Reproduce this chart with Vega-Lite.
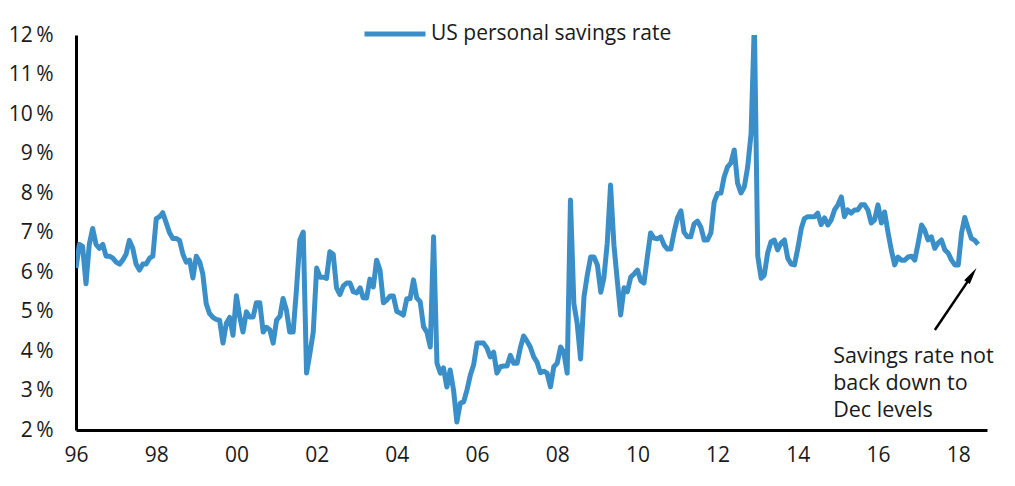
{
  "$schema": "https://vega.github.io/schema/vega-lite/v6.json",
  "width": 911,
  "height": 395,
  "autosize": {"type": "none"},
  "padding": {"left": 76, "top": 35, "right": 28, "bottom": 56},
  "background": "white",
  "config": {
    "view": {"stroke": null},
    "font": "Open Sans",
    "axis": {
      "domainColor": "#000000",
      "domainWidth": 3,
      "ticks": false,
      "tickSize": 0,
      "grid": false,
      "labelFont": "Open Sans",
      "labelFontSize": 21,
      "labelColor": "#1a1a1a",
      "title": null
    }
  },
  "encoding": {
    "x": {
      "field": "d",
      "type": "temporal",
      "scale": {"domain": [{"year": 1996, "month": 1, "date": 1}, {"year": 2018, "month": 9, "date": 20}], "nice": false},
      "axis": {
        "values": [{"year": 1996, "month": 1, "date": 1}, {"year": 1998, "month": 1, "date": 1}, {"year": 2000, "month": 1, "date": 1}, {"year": 2002, "month": 1, "date": 1}, {"year": 2004, "month": 1, "date": 1}, {"year": 2006, "month": 1, "date": 1}, {"year": 2008, "month": 1, "date": 1}, {"year": 2010, "month": 1, "date": 1}, {"year": 2012, "month": 1, "date": 1}, {"year": 2014, "month": 1, "date": 1}, {"year": 2016, "month": 1, "date": 1}, {"year": 2018, "month": 1, "date": 1}],
        "format": "%y",
        "labelFlush": false,
        "labelPadding": 14,
        "labelAlign": "center"
      }
    },
    "y": {
      "field": "v",
      "type": "quantitative",
      "scale": {"domain": [2, 12], "nice": false, "zero": false},
      "axis": {
        "values": [2, 3, 4, 5, 6, 7, 8, 9, 10, 11, 12],
        "labelExpr": "datum.value + '\u2009%'",
        "labelPadding": 23
      }
    }
  },
  "layer": [
    {
      "data": {"values": [
        {"d":"1996-01-01","v":6.1},{"d":"1996-02-01","v":6.7},{"d":"1996-03-01","v":6.65},{"d":"1996-04-01","v":5.7},{"d":"1996-05-01","v":6.7},{"d":"1996-06-01","v":7.1},{"d":"1996-07-01","v":6.7},{"d":"1996-08-01","v":6.6},{"d":"1996-09-01","v":6.7},{"d":"1996-10-01","v":6.4},{"d":"1996-11-01","v":6.4},{"d":"1996-12-01","v":6.35},
        {"d":"1997-01-01","v":6.25},{"d":"1997-02-01","v":6.2},{"d":"1997-03-01","v":6.3},{"d":"1997-04-01","v":6.45},{"d":"1997-05-01","v":6.8},{"d":"1997-06-01","v":6.6},{"d":"1997-07-01","v":6.2},{"d":"1997-08-01","v":6.05},{"d":"1997-09-01","v":6.2},{"d":"1997-10-01","v":6.2},{"d":"1997-11-01","v":6.35},{"d":"1997-12-01","v":6.4},
        {"d":"1998-01-01","v":7.35},{"d":"1998-02-01","v":7.4},{"d":"1998-03-01","v":7.5},{"d":"1998-04-01","v":7.25},{"d":"1998-05-01","v":7.0},{"d":"1998-06-01","v":6.85},{"d":"1998-07-01","v":6.85},{"d":"1998-08-01","v":6.8},{"d":"1998-09-01","v":6.45},{"d":"1998-10-01","v":6.25},{"d":"1998-11-01","v":6.3},{"d":"1998-12-01","v":5.85},
        {"d":"1999-01-01","v":6.4},{"d":"1999-02-01","v":6.25},{"d":"1999-03-01","v":5.95},{"d":"1999-04-01","v":5.2},{"d":"1999-05-01","v":4.95},{"d":"1999-06-01","v":4.85},{"d":"1999-07-01","v":4.8},{"d":"1999-08-01","v":4.78},{"d":"1999-09-01","v":4.2},{"d":"1999-10-01","v":4.7},{"d":"1999-11-01","v":4.85},{"d":"1999-12-01","v":4.4},
        {"d":"2000-01-01","v":5.4},{"d":"2000-02-01","v":4.86},{"d":"2000-03-01","v":4.48},{"d":"2000-04-01","v":4.99},{"d":"2000-05-01","v":4.86},{"d":"2000-06-01","v":4.86},{"d":"2000-07-01","v":5.22},{"d":"2000-08-01","v":5.22},{"d":"2000-09-01","v":4.48},{"d":"2000-10-01","v":4.6},{"d":"2000-11-01","v":4.53},{"d":"2000-12-01","v":4.2},
        {"d":"2001-01-01","v":4.78},{"d":"2001-02-01","v":4.88},{"d":"2001-03-01","v":5.33},{"d":"2001-04-01","v":5.03},{"d":"2001-05-01","v":4.48},{"d":"2001-06-01","v":4.48},{"d":"2001-07-01","v":5.55},{"d":"2001-08-01","v":6.81},{"d":"2001-09-01","v":7.01},{"d":"2001-10-01","v":3.44},{"d":"2001-11-01","v":3.95},{"d":"2001-12-01","v":4.48},
        {"d":"2002-01-01","v":6.1},{"d":"2002-02-01","v":5.87},{"d":"2002-03-01","v":5.87},{"d":"2002-04-01","v":5.84},{"d":"2002-05-01","v":6.51},{"d":"2002-06-01","v":6.45},{"d":"2002-07-01","v":5.6},{"d":"2002-08-01","v":5.43},{"d":"2002-09-01","v":5.65},{"d":"2002-10-01","v":5.72},{"d":"2002-11-01","v":5.72},{"d":"2002-12-01","v":5.5},
        {"d":"2003-01-01","v":5.47},{"d":"2003-02-01","v":5.6},{"d":"2003-03-01","v":5.35},{"d":"2003-04-01","v":5.34},{"d":"2003-05-01","v":5.82},{"d":"2003-06-01","v":5.62},{"d":"2003-07-01","v":6.3},{"d":"2003-08-01","v":6.05},{"d":"2003-09-01","v":5.22},{"d":"2003-10-01","v":5.29},{"d":"2003-11-01","v":5.39},{"d":"2003-12-01","v":5.39},
        {"d":"2004-01-01","v":5.0},{"d":"2004-02-01","v":4.96},{"d":"2004-03-01","v":4.91},{"d":"2004-04-01","v":5.32},{"d":"2004-05-01","v":5.32},{"d":"2004-06-01","v":5.8},{"d":"2004-07-01","v":5.34},{"d":"2004-08-01","v":5.25},{"d":"2004-09-01","v":4.61},{"d":"2004-10-01","v":4.48},{"d":"2004-11-01","v":4.1},{"d":"2004-12-01","v":6.89},
        {"d":"2005-01-01","v":3.69},{"d":"2005-02-01","v":3.44},{"d":"2005-03-01","v":3.57},{"d":"2005-04-01","v":3.09},{"d":"2005-05-01","v":3.52},{"d":"2005-06-01","v":3.01},{"d":"2005-07-01","v":2.2},{"d":"2005-08-01","v":2.68},{"d":"2005-09-01","v":2.71},{"d":"2005-10-01","v":3.01},{"d":"2005-11-01","v":3.39},{"d":"2005-12-01","v":3.65},
        {"d":"2006-01-01","v":4.2},{"d":"2006-02-01","v":4.2},{"d":"2006-03-01","v":4.2},{"d":"2006-04-01","v":4.08},{"d":"2006-05-01","v":3.85},{"d":"2006-06-01","v":3.97},{"d":"2006-07-01","v":3.44},{"d":"2006-08-01","v":3.6},{"d":"2006-09-01","v":3.62},{"d":"2006-10-01","v":3.62},{"d":"2006-11-01","v":3.89},{"d":"2006-12-01","v":3.69},
        {"d":"2007-01-01","v":3.69},{"d":"2007-02-01","v":4.1},{"d":"2007-03-01","v":4.38},{"d":"2007-04-01","v":4.25},{"d":"2007-05-01","v":4.1},{"d":"2007-06-01","v":3.85},{"d":"2007-07-01","v":3.72},{"d":"2007-08-01","v":3.45},{"d":"2007-09-01","v":3.49},{"d":"2007-10-01","v":3.44},{"d":"2007-11-01","v":3.09},{"d":"2007-12-01","v":3.6},
        {"d":"2008-01-01","v":3.69},{"d":"2008-02-01","v":4.1},{"d":"2008-03-01","v":3.97},{"d":"2008-04-01","v":3.44},{"d":"2008-05-01","v":7.82},{"d":"2008-06-01","v":5.2},{"d":"2008-07-01","v":4.7},{"d":"2008-08-01","v":3.8},{"d":"2008-09-01","v":5.37},{"d":"2008-10-01","v":5.92},{"d":"2008-11-01","v":6.38},{"d":"2008-12-01","v":6.38},
        {"d":"2009-01-01","v":6.18},{"d":"2009-02-01","v":5.49},{"d":"2009-03-01","v":5.84},{"d":"2009-04-01","v":6.73},{"d":"2009-05-01","v":8.2},{"d":"2009-06-01","v":6.68},{"d":"2009-07-01","v":5.8},{"d":"2009-08-01","v":4.91},{"d":"2009-09-01","v":5.6},{"d":"2009-10-01","v":5.5},{"d":"2009-11-01","v":5.87},{"d":"2009-12-01","v":5.95},
        {"d":"2010-01-01","v":6.05},{"d":"2010-02-01","v":5.78},{"d":"2010-03-01","v":5.72},{"d":"2010-04-01","v":6.38},{"d":"2010-05-01","v":6.99},{"d":"2010-06-01","v":6.86},{"d":"2010-07-01","v":6.84},{"d":"2010-08-01","v":6.89},{"d":"2010-09-01","v":6.68},{"d":"2010-10-01","v":6.58},{"d":"2010-11-01","v":6.58},{"d":"2010-12-01","v":7.01},
        {"d":"2011-01-01","v":7.37},{"d":"2011-02-01","v":7.55},{"d":"2011-03-01","v":7.01},{"d":"2011-04-01","v":6.89},{"d":"2011-05-01","v":6.89},{"d":"2011-06-01","v":7.22},{"d":"2011-07-01","v":7.29},{"d":"2011-08-01","v":7.14},{"d":"2011-09-01","v":6.81},{"d":"2011-10-01","v":6.81},{"d":"2011-11-01","v":6.99},{"d":"2011-12-01","v":7.77},
        {"d":"2012-01-01","v":7.99},{"d":"2012-02-01","v":8.0},{"d":"2012-03-01","v":8.41},{"d":"2012-04-01","v":8.66},{"d":"2012-05-01","v":8.76},{"d":"2012-06-01","v":9.09},{"d":"2012-07-01","v":8.25},{"d":"2012-08-01","v":8.0},{"d":"2012-09-01","v":8.16},{"d":"2012-10-01","v":8.66},{"d":"2012-11-01","v":9.5},{"d":"2012-12-01","v":12.3},
        {"d":"2013-01-01","v":6.4},{"d":"2013-02-01","v":5.84},{"d":"2013-03-01","v":5.92},{"d":"2013-04-01","v":6.48},{"d":"2013-05-01","v":6.76},{"d":"2013-06-01","v":6.81},{"d":"2013-07-01","v":6.56},{"d":"2013-08-01","v":6.73},{"d":"2013-09-01","v":6.81},{"d":"2013-10-01","v":6.35},{"d":"2013-11-01","v":6.2},{"d":"2013-12-01","v":6.18},
        {"d":"2014-01-01","v":6.6},{"d":"2014-02-01","v":7.1},{"d":"2014-03-01","v":7.35},{"d":"2014-04-01","v":7.4},{"d":"2014-05-01","v":7.4},{"d":"2014-06-01","v":7.4},{"d":"2014-07-01","v":7.49},{"d":"2014-08-01","v":7.2},{"d":"2014-09-01","v":7.37},{"d":"2014-10-01","v":7.19},{"d":"2014-11-01","v":7.32},{"d":"2014-12-01","v":7.57},
        {"d":"2015-01-01","v":7.7},{"d":"2015-02-01","v":7.9},{"d":"2015-03-01","v":7.4},{"d":"2015-04-01","v":7.57},{"d":"2015-05-01","v":7.49},{"d":"2015-06-01","v":7.57},{"d":"2015-07-01","v":7.57},{"d":"2015-08-01","v":7.7},{"d":"2015-09-01","v":7.7},{"d":"2015-10-01","v":7.57},{"d":"2015-11-01","v":7.24},{"d":"2015-12-01","v":7.32},
        {"d":"2016-01-01","v":7.7},{"d":"2016-02-01","v":7.24},{"d":"2016-03-01","v":7.52},{"d":"2016-04-01","v":7.01},{"d":"2016-05-01","v":6.56},{"d":"2016-06-01","v":6.18},{"d":"2016-07-01","v":6.38},{"d":"2016-08-01","v":6.3},{"d":"2016-09-01","v":6.3},{"d":"2016-10-01","v":6.38},{"d":"2016-11-01","v":6.4},{"d":"2016-12-01","v":6.3},
        {"d":"2017-01-01","v":6.73},{"d":"2017-02-01","v":7.19},{"d":"2017-03-01","v":7.06},{"d":"2017-04-01","v":6.81},{"d":"2017-05-01","v":6.89},{"d":"2017-06-01","v":6.6},{"d":"2017-07-01","v":6.73},{"d":"2017-08-01","v":6.81},{"d":"2017-09-01","v":6.56},{"d":"2017-10-01","v":6.48},{"d":"2017-11-01","v":6.3},{"d":"2017-12-01","v":6.18},
        {"d":"2018-01-01","v":6.18},{"d":"2018-02-01","v":7.0},{"d":"2018-03-01","v":7.38},{"d":"2018-04-01","v":7.1},{"d":"2018-05-01","v":6.85},{"d":"2018-06-01","v":6.8},{"d":"2018-07-01","v":6.7}
      ]},
      "mark": {"type": "line", "strokeWidth": 5, "strokeJoin": "round", "strokeCap": "butt", "clip": true},
      "encoding": {
        "color": {
          "datum": "US personal savings rate",
          "scale": {"range": ["#3a8fc9"]},
          "legend": {
            "orient": "none",
            "legendX": 286,
            "legendY": -34,
            "title": null,
            "padding": 0,
            "symbolType": "stroke",
            "symbolSize": 3721,
            "symbolStrokeWidth": 5,
            "labelFont": "Open Sans",
            "labelFontSize": 21,
            "labelColor": "#1a1a1a",
            "labelOffset": 3,
            "labelLimit": 500
          }
        }
      }
    },
    {
      "data": {"values": [{"d": "2014-11-19", "v": 3.70, "t": "Savings rate not\nback down to\nDec levels"}]},
      "mark": {"type": "text", "align": "left", "baseline": "alphabetic", "lineBreak": "\n", "lineHeight": 27, "font": "Open Sans", "fontSize": 21.5, "color": "#1a1a1a"},
      "encoding": {"text": {"field": "t"}}
    },
    {
      "data": {"values": [{"d": "2017-06-02", "v": 4.53, "d2": "2018-04-07", "v2": 5.80}]},
      "mark": {"type": "rule", "color": "#000000", "strokeWidth": 2.5},
      "encoding": {"x2": {"field": "d2"}, "y2": {"field": "v2"}}
    },
    {
      "data": {"values": [{"d": "2018-05-04", "v": 5.92}]},
      "mark": {"type": "point", "shape": "M0,-1L-0.4,1L0.4,1Z", "size": 289, "angle": 34, "filled": true, "color": "#000000", "opacity": 1},
      "encoding": {}
    }
  ]
}
